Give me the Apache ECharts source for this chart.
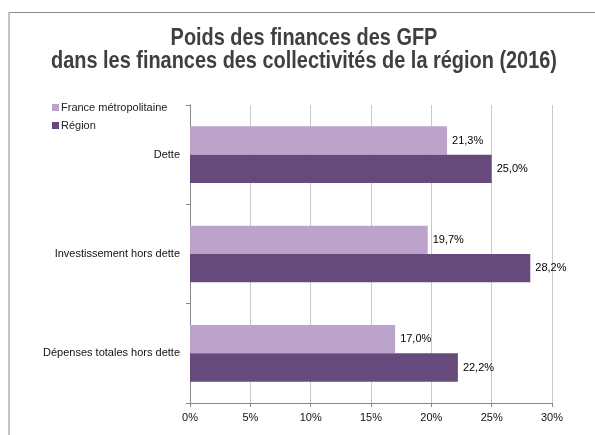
<!DOCTYPE html>
<html>
<head>
<meta charset="utf-8">
<script src="https://cdn.jsdelivr.net/npm/echarts@6/dist/echarts.min.js"></script>
<style>
html,body{margin:0;padding:0;background:#fff;}
#chart{width:595px;height:435px;}
</style>
</head>
<body>
<div id="chart"></div>
<script>
const titleLines = ['Poids des finances des GFP', 'dans les finances des collectivités de la région (2016)'];
const categories = ['Dette', 'Investissement hors dette', 'Dépenses totales hors dette'];
const seriesNames = ['France métropolitaine', 'Région'];
const franceValues = [21.3, 19.7, 17.0];
const regionValues = [25.0, 28.2, 22.2];
const xTicks = [0, 5, 10, 15, 20, 25, 30];

const chart = echarts.init(document.getElementById('chart'));
const fmt = v => v.toFixed(1).replace('.', ',') + '%';
const labelStyle = {
  show: true, position: 'right', distance: 5,
  fontFamily: 'Liberation Sans, Arial, sans-serif', fontSize: 11, color: '#000',
  formatter: p => fmt(p.value)
};
const titleFont = 'bold 24px "Liberation Sans", Arial, sans-serif';
chart.setOption({
  animation: false,
  backgroundColor: '#fff',
  legend: {
    orient: 'vertical', left: 47, top: 97, itemWidth: 7, itemHeight: 7, itemGap: 7,
    icon: 'rect',
    textStyle: { fontFamily: 'Liberation Sans, Arial, sans-serif', fontSize: 11, color: '#222', padding: [0,0,0,-3] },
    data: seriesNames
  },
  grid: { left: 190, right: 43, top: 105, bottom: 32, containLabel: false },
  xAxis: {
    type: 'value', min: 0, max: 30, interval: 5,
    axisLine: { show: true, lineStyle: { color: '#888', width: 1 } },
    axisTick: { show: true, length: 4, lineStyle: { color: '#888' } },
    splitLine: { show: true, lineStyle: { color: '#c8c8c8', width: 1 } },
    axisLabel: {
      fontFamily: 'Liberation Sans, Arial, sans-serif', fontSize: 11, color: '#111', margin: 9,
      formatter: v => xTicks.includes(v) ? v + '%' : ''
    }
  },
  yAxis: {
    type: 'category', data: categories, inverse: true,
    axisLine: { show: true, lineStyle: { color: '#888', width: 1 } },
    axisTick: { show: true, length: 4, lineStyle: { color: '#888' } },
    axisLabel: { fontFamily: 'Liberation Sans, Arial, sans-serif', fontSize: 11, color: '#111', margin: 10 }
  },
  series: [
    { name: seriesNames[0], type: 'bar', data: franceValues, barGap: '0%', barCategoryGap: '43%',
      itemStyle: { color: '#bca3cb' }, label: labelStyle },
    { name: seriesNames[1], type: 'bar', data: regionValues, barGap: '0%', barCategoryGap: '43%',
      itemStyle: { color: '#664a7c' }, label: labelStyle }
  ],
  graphic: [
    { type: 'polyline', shape: { points: [[9, 435], [9, 12.5], [595, 12.5]] },
      style: { stroke: '#8a8a8a', lineWidth: 1, fill: null }, silent: true },
    { type: 'text', x: 304, y: 38, scaleX: 0.83, silent: true,
      style: { text: titleLines[0], font: titleFont, fill: '#3f3f3f', textAlign: 'center', textVerticalAlign: 'middle' } },
    { type: 'text', x: 304, y: 61, scaleX: 0.83, silent: true,
      style: { text: titleLines[1], font: titleFont, fill: '#3f3f3f', textAlign: 'center', textVerticalAlign: 'middle' } }
  ]
});
</script>
</body>
</html>
